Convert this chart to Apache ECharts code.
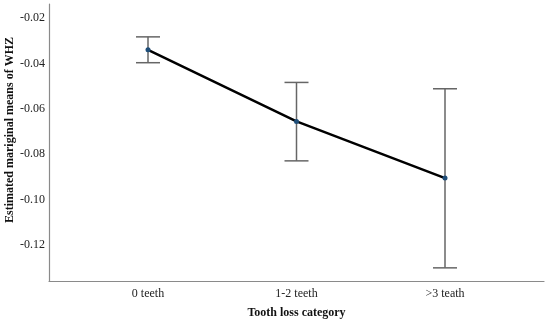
<!DOCTYPE html>
<html>
<head>
<meta charset="utf-8">
<script src="https://cdn.jsdelivr.net/npm/echarts@6/dist/echarts.min.js"></script>
<style>html,body{margin:0;padding:0;background:#fff}#c{width:550px;height:323px}</style>
</head>
<body>
<div id="c"></div>
<script>
const categories = ['0 teeth', '1-2 teeth', '>3 teath'];
const means = [-0.034, -0.0656, -0.0906];
const lower = [-0.0397, -0.0830, -0.1302];
const upper = [-0.0283, -0.0484, -0.0512];
const yTicks = [-0.12, -0.10, -0.08, -0.06, -0.04, -0.02];

const font = '"Liberation Serif", "DejaVu Serif", serif';
const chart = echarts.init(document.getElementById('c'));
chart.setOption({
  animation: false,
  grid: { left: 49, right: 6, top: 4, bottom: 42, outerBoundsMode: 'none', containLabel: false },
  xAxis: {
    type: 'value', min: -2/3, max: 8/3,
    name: 'Tooth loss category', nameLocation: 'middle', nameGap: 26, nameMoveOverlap: false,
    nameTextStyle: { fontFamily: font, fontWeight: 'bold', fontSize: 12, color: '#111' },
    axisLine: { show: true, onZero: false, lineStyle: { color: '#8a8a8a', width: 1.2 } },
    axisTick: { show: false },
    splitLine: { show: false },
    axisLabel: {
      customValues: [0, 1, 2],
      formatter: v => categories[Math.round(v)],
      fontFamily: font, fontSize: 12, color: '#222', margin: 7
    }
  },
  yAxis: {
    type: 'value', min: -0.136, max: -0.0138,
    name: 'Estimated mariginal means of WHZ', nameLocation: 'middle', nameGap: 33, nameMoveOverlap: false,
    nameTextStyle: { fontFamily: font, fontWeight: 'bold', fontSize: 12, color: '#111', padding: [0, 0, 0, 25] },
    axisLine: { show: true, onZero: false, lineStyle: { color: '#8a8a8a', width: 1.2 } },
    axisTick: { show: false },
    splitLine: { show: false },
    axisLabel: {
      customValues: yTicks,
      formatter: v => v.toFixed(2),
      fontFamily: font, fontSize: 12, color: '#222', margin: 4
    }
  },
  series: [
    {
      type: 'custom',
      renderItem: function (params, api) {
        const x = api.value(0);
        const lo = api.coord([x, api.value(1)]);
        const hi = api.coord([x, api.value(2)]);
        const hw = 12;
        const style = { stroke: '#666', lineWidth: 1.5 };
        return {
          type: 'group',
          children: [
            { type: 'line', shape: { x1: lo[0], y1: lo[1], x2: hi[0], y2: hi[1] }, style },
            { type: 'line', shape: { x1: lo[0] - hw, y1: lo[1], x2: lo[0] + hw, y2: lo[1] }, style },
            { type: 'line', shape: { x1: hi[0] - hw, y1: hi[1], x2: hi[0] + hw, y2: hi[1] }, style }
          ]
        };
      },
      data: categories.map((c, i) => [i, lower[i], upper[i]]),
      z: 1
    },
    {
      type: 'line',
      data: categories.map((c, i) => [i, means[i]]),
      lineStyle: { color: '#000', width: 2.5 },
      symbol: 'circle', symbolSize: 5,
      itemStyle: { color: '#1f4e79' },
      z: 3
    }
  ]
});
</script>
</body>
</html>
